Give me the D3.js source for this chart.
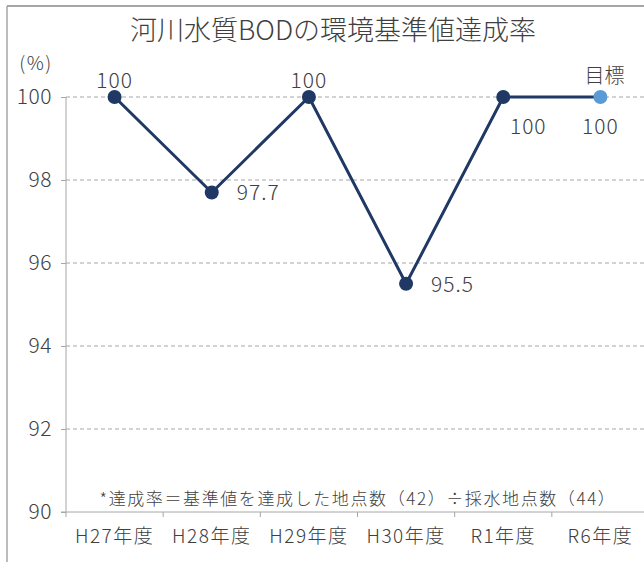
<!DOCTYPE html>
<html>
<head>
<meta charset="utf-8">
<script src="https://cdn.jsdelivr.net/npm/d3@7"></script>
<style>
  body { margin: 0; background: #fff; }
  text { font-family: "Noto Sans CJK JP", "Noto Sans", sans-serif; fill: #404040; font-weight: 300; }
</style>
</head>
<body>
<div id="chart"></div>
<script>
// chart data
var years = ["H27年度", "H28年度", "H29年度", "H30年度", "R1年度", "R6年度"];
var rates = [100, 97.7, 100, 95.5, 100, 100];
var rateLabels = ["100", "97.7", "100", "95.5", "100", "100"];
var yTicks = [90, 92, 94, 96, 98, 100];
var title = "河川水質BODの環境基準値達成率";
var note = "*達成率＝基準値を達成した地点数（42）÷採水地点数（44）";

// where each value label sits relative to its point
var labelPos = ["above", "right", "above", "right", "belowRight", "below"];

var width = 644, height = 562;
var margin = {top: 97, right: -5, bottom: 50, left: 66};

var svg = d3.select("#chart")
  .append("svg")
    .attr("width", width)
    .attr("height", height);

// outer frame (top + left edge)
svg.append("line")
  .attr("x1", 7).attr("x2", width).attr("y1", 6).attr("y2", 6)
  .attr("stroke", "#a6a6a6").attr("stroke-width", 2);
svg.append("line")
  .attr("x1", 7).attr("x2", 7).attr("y1", 6).attr("y2", height)
  .attr("stroke", "#a6a6a6").attr("stroke-width", 1.5);

var x = d3.scaleBand()
  .domain(years)
  .range([margin.left, width - margin.right])
  .padding(0);

var y = d3.scaleLinear()
  .domain([90, 100])
  .range([height - margin.bottom, margin.top]);

// title
svg.append("text")
  .attr("x", 333)
  .attr("y", 40)
  .attr("text-anchor", "middle")
  .style("font-size", "27px")
  .text(title);

// unit label
svg.append("text")
  .attr("x", 36)
  .attr("y", 70)
  .attr("text-anchor", "middle")
  .style("font-size", "19px")
  .style("letter-spacing", "1.5px")
  .text("(%)");

// gridlines
svg.append("g")
  .selectAll("line")
  .data(yTicks.filter(function(d) { return d != 90; }))
  .enter()
  .append("line")
    .attr("x1", margin.left)
    .attr("x2", width)
    .attr("y1", function(d) { return y(d); })
    .attr("y2", function(d) { return y(d); })
    .attr("stroke", "#a6a6a6")
    .attr("stroke-width", 1)
    .attr("stroke-dasharray", "4,3");

// y axis
var yAxis = svg.append("g")
  .attr("transform", "translate(" + margin.left + ",0)")
  .call(d3.axisLeft(y).tickValues(yTicks).tickSize(5).tickPadding(9).tickFormat(d3.format("d")));
yAxis.select(".domain").attr("stroke", "#a6a6a6").attr("d", "M0," + y(100) + "V" + y(90));
yAxis.selectAll(".tick line").attr("stroke", "#a6a6a6");
yAxis.selectAll(".tick text")
  .style("font-size", "21px")
  .style("letter-spacing", "0.5px")
  .attr("fill", "#404040")
  .style("font-family", "'Noto Sans CJK JP', sans-serif");

// x axis
var xAxis = svg.append("g")
  .attr("transform", "translate(0," + y(90) + ")");
xAxis.append("line")
  .attr("x1", margin.left - 5).attr("x2", width)
  .attr("stroke", "#a6a6a6");
xAxis.selectAll(".xtick")
  .data(years)
  .enter()
  .append("line")
    .attr("class", "xtick")
    .attr("x1", function(d) { return x(d); })
    .attr("x2", function(d) { return x(d); })
    .attr("y1", 0).attr("y2", 5)
    .attr("stroke", "#a6a6a6");
xAxis.selectAll(".xlabel")
  .data(years)
  .enter()
  .append("text")
    .attr("class", "xlabel")
    .attr("x", function(d) { return x(d) + x.bandwidth() / 2; })
    .attr("y", 31)
    .attr("text-anchor", "middle")
    .style("font-size", "19px")
    .style("letter-spacing", "1.5px")
    .text(function(d) { return d; });

// note
svg.append("text")
  .attr("x", 358)
  .attr("y", 505)
  .attr("text-anchor", "middle")
  .style("font-size", "17px")
  .style("letter-spacing", "1.6px")
  .text(note);

var data = years.map(function(d, i) { return {year: d, rate: rates[i], label: rateLabels[i], pos: labelPos[i]}; });
var cx = function(d) { return x(d.year) + x.bandwidth() / 2; };

// line
svg.append("path")
  .datum(data)
  .attr("fill", "none")
  .attr("stroke", "#1f3864")
  .attr("stroke-width", 3)
  .attr("d", d3.line()
    .x(cx)
    .y(function(d) { return y(d.rate); }));

// points
svg.selectAll(".dot")
  .data(data)
  .enter()
  .append("circle")
    .attr("class", "dot")
    .attr("cx", cx)
    .attr("cy", function(d) { return y(d.rate); })
    .attr("r", 7)
    .attr("fill", function(d, i) { return i == data.length - 1 ? "#5b9bd5" : "#1f3864"; });

// value labels
var offsets = {
  above: {dx: 0, dy: -9, anchor: "middle"},
  right: {dx: 25, dy: 8, anchor: "start"},
  below: {dx: 0, dy: 37, anchor: "middle"},
  belowRight: {dx: 25, dy: 37, anchor: "middle"}
};
svg.selectAll(".vlabel")
  .data(data)
  .enter()
  .append("text")
    .attr("class", "vlabel")
    .attr("x", function(d) { return cx(d) + offsets[d.pos].dx; })
    .attr("y", function(d) { return y(d.rate) + offsets[d.pos].dy; })
    .attr("text-anchor", function(d) { return offsets[d.pos].anchor; })
    .style("font-size", "21px")
    .style("letter-spacing", "1px")
    .text(function(d) { return d.label; });

// target label
svg.append("text")
  .attr("x", cx(data[data.length - 1]) + 4)
  .attr("y", y(100) - 14)
  .attr("text-anchor", "middle")
  .style("font-size", "20px")
  .text("目標");
</script>
</body>
</html>
